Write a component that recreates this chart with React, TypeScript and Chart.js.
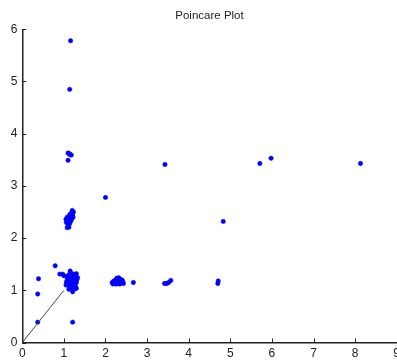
import { useEffect, useRef } from "react";
import { Chart, registerables } from "chart.js";
Chart.register(...registerables);

// Poincare pairs: RR(n) on x, RR(n+1) on y
const rrX = [
  // main cluster
  1.05, 1.08, 1.10, 1.12, 1.15, 1.18, 1.20, 1.22, 1.25, 1.28, 1.30, 1.27, 1.24, 1.20, 1.16, 1.13, 1.10, 1.14, 1.18, 1.22,
  1.26, 1.31, 1.29, 1.19, 1.23, 1.17, 1.21, 1.12, 1.08, 1.06, 1.16, 1.25, 1.33, 1.27, 1.12, 1.30, 1.09, 1.24, 1.15, 1.20,
  0.90, 0.97, 1.00, 1.15, 1.21, 1.30,
  // upper cluster
  1.08, 1.12, 1.10, 1.06, 1.14, 1.10, 1.17, 1.13, 1.08, 1.19, 1.15, 1.21, 1.17, 1.23, 1.20, 1.14, 1.18, 1.11, 1.22, 1.05,
  // right cluster
  2.18, 2.22, 2.26, 2.30, 2.34, 2.38, 2.42, 2.20, 2.25, 2.30, 2.35, 2.40, 2.28, 2.33, 2.23, 2.37, 2.43, 2.16, 2.32, 2.27,
  // isolated beats
  1.16, 1.14, 1.10, 1.12, 1.15, 1.18, 1.10, 1.14, 3.43, 5.71, 5.98, 8.13, 2.00, 4.83, 4.70, 4.71, 0.79, 0.39, 0.37, 0.37,
  1.21, 2.67, 3.42, 3.47, 3.52, 3.57,
];
const rrY = [
  1.10, 1.15, 1.20, 1.25, 1.30, 1.28, 1.22, 1.18, 1.12, 1.08, 1.15, 1.22, 1.27, 1.32, 1.24, 1.18, 1.12, 1.06, 1.04, 1.06,
  1.10, 1.20, 1.28, 1.15, 1.24, 1.19, 1.12, 1.30, 1.22, 1.16, 1.10, 1.30, 1.24, 1.03, 1.02, 1.32, 1.27, 1.16, 1.14, 1.27,
  1.31, 1.31, 1.28, 1.37, 0.97, 1.04,
  2.20, 2.21, 2.25, 2.30, 2.28, 2.33, 2.33, 2.37, 2.40, 2.39, 2.42, 2.44, 2.47, 2.50, 2.53, 2.45, 2.36, 2.29, 2.40, 2.36,
  1.12, 1.14, 1.12, 1.13, 1.12, 1.14, 1.16, 1.18, 1.20, 1.22, 1.21, 1.20, 1.17, 1.16, 1.16, 1.18, 1.13, 1.15, 1.24, 1.23,
  5.78, 4.85, 3.63, 3.62, 3.60, 3.59, 3.49, 3.61, 3.41, 3.43, 3.53, 3.43, 2.78, 2.32, 1.13, 1.18, 1.47, 1.22, 0.93, 0.39,
  0.39, 1.15, 1.13, 1.13, 1.15, 1.19,
];
const identityX = [0, 1];
const identityY = [0, 1];
const xTicks = [0, 1, 2, 3, 4, 5, 6, 7, 8, 9];
const yTicks = [0, 1, 2, 3, 4, 5, 6];
const titleText = "Poincare Plot";

const inwardTicks = {
  id: "inwardTicks",
  afterDraw(chart: any) {
    const { ctx, chartArea, scales } = chart;
    const x = scales.x;
    const y = scales.y;
    ctx.save();
    ctx.strokeStyle = "#222";
    ctx.lineWidth = 1;
    xTicks.forEach((v) => {
      const px = Math.round(x.getPixelForValue(v)) + 0.5;
      ctx.beginPath();
      ctx.moveTo(px, chartArea.bottom);
      ctx.lineTo(px, chartArea.bottom - 4);
      ctx.stroke();
    });
    yTicks.forEach((v) => {
      const py = Math.round(y.getPixelForValue(v)) + 0.5;
      ctx.beginPath();
      ctx.moveTo(chartArea.left, py);
      ctx.lineTo(chartArea.left + 4, py);
      ctx.stroke();
    });
    ctx.restore();
  },
};

export default function App() {
  const ref = useRef<HTMLCanvasElement>(null);
  useEffect(() => {
    if (!ref.current) return;
    const points = rrX.map((v, i) => ({ x: v, y: rrY[i] }));
    const line = identityX.map((v, i) => ({ x: v, y: identityY[i] }));
    const chart = new Chart(ref.current, {
      type: "scatter",
      data: {
        datasets: [
          {
            type: "line",
            data: line,
            borderColor: "#444",
            borderWidth: 1,
            pointRadius: 0,
            fill: false,
          } as any,
          {
            data: points,
            backgroundColor: "#0000ff",
            borderColor: "#0000ff",
            pointRadius: 2.2,
            borderWidth: 0.5,
          },
        ],
      },
      options: {
        animation: false,
        responsive: false,
        maintainAspectRatio: false,
        layout: { padding: { left: 0, right: 23.3, top: 0, bottom: 0 } },
        plugins: {
          legend: { display: false },
          tooltip: { enabled: false },
          title: {
            display: true,
            fullSize: false,
            text: titleText,
            color: "#222",
            font: { family: "Liberation Sans, Arial, sans-serif", size: 11.5, weight: "normal" },
            padding: { top: 8.5, bottom: 7 },
          },
        },
        scales: {
          x: {
            type: "linear",
            min: 0,
            max: 9,
            afterFit: (s: any) => {
              s.height = 18.5;
            },
            afterBuildTicks: (s: any) => {
              s.ticks = xTicks.map((v) => ({ value: v }));
            },
            grid: { display: true, drawOnChartArea: false, drawTicks: false },
            border: { display: true, color: "#222", width: 1.5 },
            ticks: {
              color: "#222",
              padding: 4,
              maxRotation: 0,
              font: { family: "Liberation Sans, Arial, sans-serif", size: 12 },
            },
          },
          y: {
            type: "linear",
            min: 0,
            max: 6,
            afterFit: (s: any) => {
              s.width = 22.3;
            },
            afterBuildTicks: (s: any) => {
              s.ticks = yTicks.map((v) => ({ value: v }));
            },
            grid: { display: true, drawOnChartArea: false, drawTicks: false },
            border: { display: true, color: "#222", width: 1.5 },
            ticks: {
              color: "#222",
              padding: 5,
              font: { family: "Liberation Sans, Arial, sans-serif", size: 12 },
            },
          },
        },
      },
      plugins: [inwardTicks],
    });
    return () => chart.destroy();
  }, []);
  return (
    <div
      style={{
        position: "fixed",
        left: 0,
        top: 0,
        width: 397,
        height: 361,
        overflow: "hidden",
        background: "#fff",
      }}
    >
      <canvas ref={ref} width={420} height={361} style={{ display: "block" }} />
    </div>
  );
}
